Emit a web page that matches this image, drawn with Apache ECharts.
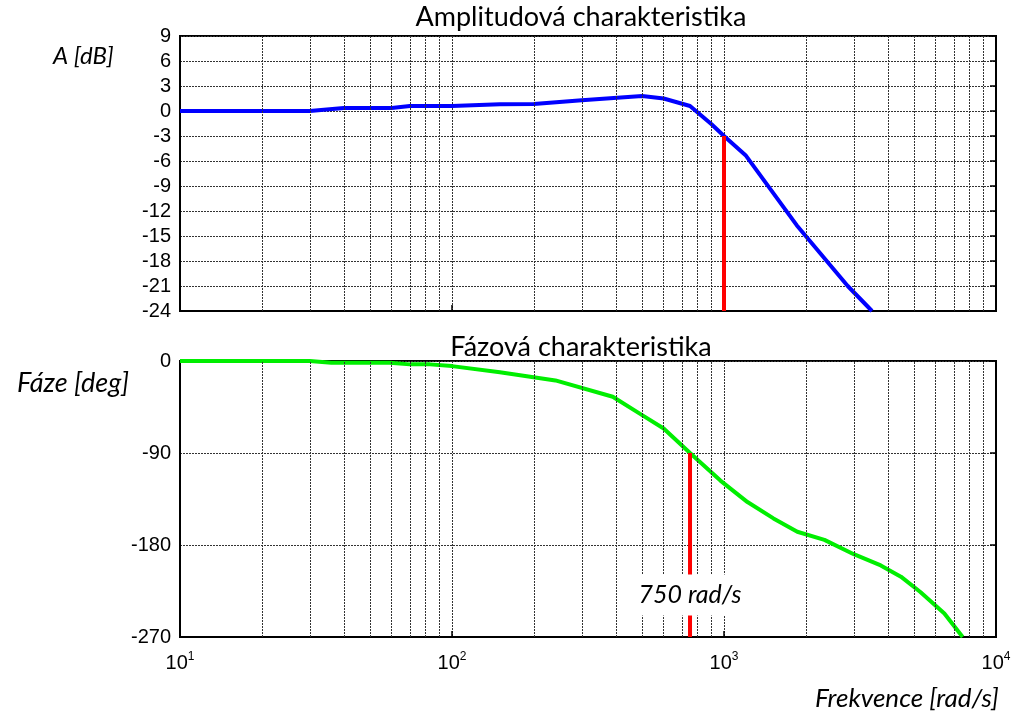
<!DOCTYPE html>
<html>
<head>
<meta charset="utf-8">
<script src="https://cdn.jsdelivr.net/npm/echarts@6/dist/echarts.min.js"></script>
<style>html,body{margin:0;padding:0;background:#fff}#c{width:1025px;height:716px}</style>
</head>
<body>
<div id="c"></div>
<script>
// ---- data ----
const ampFreq  = [10, 30, 40, 60, 70, 100, 150, 200, 300, 500, 600, 750, 900, 1000, 1200, 1850, 2850, 3500];
const ampDb    = [0, 0, 0.35, 0.35, 0.6, 0.6, 0.8, 0.85, 1.3, 1.8, 1.5, 0.6, -1.6, -3, -5.3, -13.7, -21, -24];
const phFreq   = [10, 30, 36, 59, 70, 83, 100, 150, 240, 390, 490, 600, 750, 970, 1220, 1520, 1860, 2340, 3000, 3770, 4470, 5270, 6460, 7540];
const phDeg    = [0, 0, -1.6, -1.6, -3.3, -3.3, -5, -11, -19, -35, -51.5, -66, -90, -117, -138, -154, -167, -175, -189, -200, -211, -226, -247, -270];
const ampMarker = [[1000, -3], [1000, -24]];
const phMarker  = [[750, -90], [750, -270]];
const markerLabel = [[750, -229]];
const markerText = '750 rad/s';
const minorFreqs = [20,30,40,50,60,70,80,90,200,300,400,500,600,700,800,900,2000,3000,4000,5000,6000,7000,8000,9000];
const xTickExp = [1, 2, 3, 4];
const xTickLabels = xTickExp.map(e => '{b|10}{s|' + e + '}');
const ampTicks = [-24, 9, 3];
const phTicks = [-270, 0, 90];

const gridDash = {color: '#333', width: 1, type: [2, 1]};
const lab = {fontFamily: 'Liberation Sans', fontSize: 20, color: '#000'};

function xAxisCfg(gi, showLabels) {
  return {
    type: 'log', logBase: 10, min: 10, max: 10000, gridIndex: gi,
    axisLine: {show: true, onZero: false, lineStyle: {color: '#000', width: 2}},
    axisTick: {show: true, inside: true, length: 6, lineStyle: {color: '#000', width: 1.5}},
    splitLine: {show: true, lineStyle: gridDash},
    axisLabel: showLabels ? {
      show: true, margin: 14,
      formatter: v => { const e = Math.round(Math.log10(v)); const i = xTickExp.indexOf(e); return i >= 0 ? xTickLabels[i] : ''; },
      rich: {b: {fontFamily: 'Liberation Sans', fontSize: 20, color: '#000'},
             s: {fontFamily: 'Liberation Sans', fontSize: 12, color: '#000', padding: [0, 0, 12, 0]}}
    } : {show: false}
  };
}
function yAxisCfg(gi, t) {
  return {
    type: 'value', gridIndex: gi, min: t[0], max: t[1], interval: t[2],
    axisLine: {show: true, onZero: false, lineStyle: {color: '#000', width: 2}},
    axisTick: {show: false},
    splitLine: {show: true, lineStyle: gridDash},
    axisLabel: Object.assign({margin: 9}, lab)
  };
}
function yAxisRight(gi, t) {
  return {
    type: 'value', gridIndex: gi, min: t[0], max: t[1], interval: t[2], position: 'right',
    axisLine: {show: true, onZero: false, lineStyle: {color: '#000', width: 2}},
    axisTick: {show: true, inside: true, length: 6, lineStyle: {color: '#000', width: 1.5}},
    splitLine: {show: false}, axisLabel: {show: false}
  };
}
function minorSeries(xi, yi) {
  return {
    type: 'line', xAxisIndex: xi, yAxisIndex: yi, data: [], z: 1, silent: true,
    markLine: {silent: true, symbol: 'none', animation: false, label: {show: false},
      lineStyle: gridDash, data: minorFreqs.map(f => ({xAxis: f}))}
  };
}

const italic = {fontFamily: 'Lato', fontStyle: 'italic', fontWeight: 'normal', color: '#000'};
const chart = echarts.init(document.getElementById('c'));
chart.setOption({
  animation: false,
  backgroundColor: '#fff',
  title: [
    {text: 'Amplitudová charakteristika', left: 581, top: 4, textAlign: 'center', padding: 0,
     textStyle: {fontFamily: 'Lato', fontSize: 27, fontWeight: 'normal', color: '#000'}},
    {text: 'Fázová charakteristika', left: 581, top: 334, textAlign: 'center', padding: 0,
     textStyle: {fontFamily: 'Lato', fontSize: 27, fontWeight: 'normal', color: '#000'}},
    {text: 'A [dB]', left: 53, top: 44, padding: 0, textStyle: Object.assign({fontSize: 24}, italic)},
    {text: 'Fáze [deg]', left: 17, top: 370, padding: 0, textStyle: Object.assign({fontSize: 27}, italic)},
    {text: 'Frekvence [rad/s]', left: 815, top: 686, padding: 0, textStyle: Object.assign({fontSize: 26}, italic)}
  ],
  grid: [
    {left: 180, top: 36, width: 816, height: 275, show: true, borderColor: '#000', borderWidth: 2, backgroundColor: '#fff'},
    {left: 180, top: 361, width: 816, height: 276, show: true, borderColor: '#000', borderWidth: 2, backgroundColor: '#fff'}
  ],
  xAxis: [xAxisCfg(0, false), xAxisCfg(1, true)],
  yAxis: [yAxisCfg(0, ampTicks), yAxisCfg(1, phTicks), yAxisRight(0, ampTicks), yAxisRight(1, phTicks)],
  series: [
    minorSeries(0, 0),
    minorSeries(1, 1),
    {type: 'line', xAxisIndex: 0, yAxisIndex: 0, z: 3, symbol: 'none', clip: true,
     data: ampFreq.map((f, i) => [f, ampDb[i]]), lineStyle: {color: '#0000ff', width: 4}},
    {type: 'line', xAxisIndex: 0, yAxisIndex: 0, z: 4, symbol: 'none',
     data: ampMarker, lineStyle: {color: '#ff0000', width: 4}},
    {type: 'line', xAxisIndex: 1, yAxisIndex: 1, z: 3, symbol: 'none', clip: true,
     data: phFreq.map((f, i) => [f, phDeg[i]]), lineStyle: {color: '#00ee00', width: 4}},
    {type: 'line', xAxisIndex: 1, yAxisIndex: 1, z: 4, symbol: 'none',
     data: phMarker, lineStyle: {color: '#ff0000', width: 4}},
    {type: 'scatter', xAxisIndex: 1, yAxisIndex: 1, z: 10, zlevel: 1, symbolSize: 1, silent: true,
     itemStyle: {opacity: 1, color: '#fff'},
     data: markerLabel,
     label: {show: true, position: 'inside', formatter: markerText, fontFamily: 'Lato', fontSize: 25,
             fontStyle: 'italic', color: '#000', opacity: 1, backgroundColor: '#ffffff', padding: [8, 8]}}
  ]
});
</script>
</body>
</html>
